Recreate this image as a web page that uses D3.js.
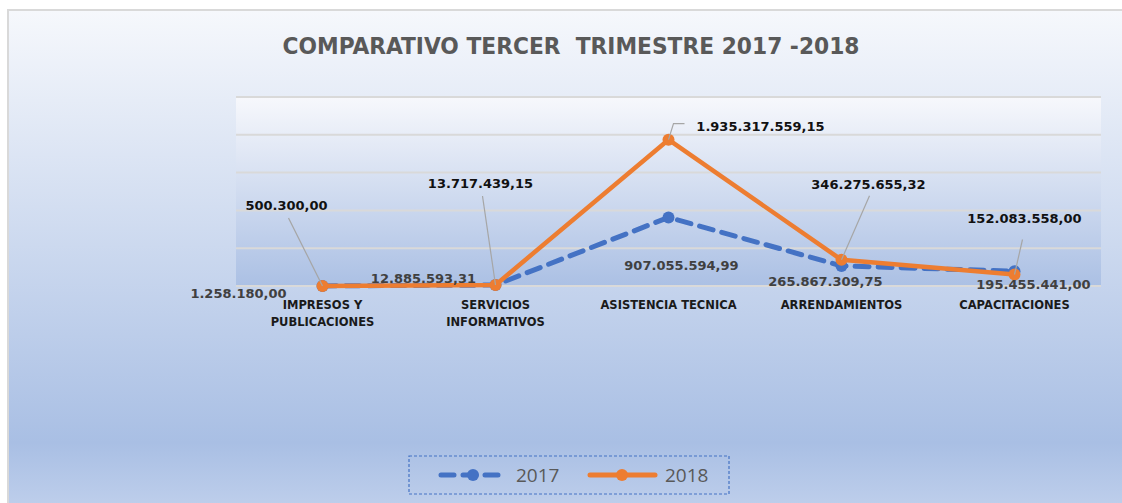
<!DOCTYPE html>
<html>
<head>
<meta charset="utf-8">
<script src="https://cdn.jsdelivr.net/npm/d3@7"></script>
<style>
  html, body { margin: 0; padding: 0; background: #fff; }
  svg { display: block; }
</style>
</head>
<body>
<div id="chart"></div>
<script>
const categories = [
    ["IMPRESOS Y", "PUBLICACIONES"],
    ["SERVICIOS", "INFORMATIVOS"],
    ["ASISTENCIA TECNICA"],
    ["ARRENDAMIENTOS"],
    ["CAPACITACIONES"]
];
const values2017 = [1258180.00, 12885593.31, 907055594.99, 265867309.75, 195455441.00];
const values2018 = [500300.00, 13717439.15, 1935317559.15, 346275655.32, 152083558.00];
const yTicks = [0, 500000000, 1000000000, 1500000000, 2000000000, 2500000000];
const seriesNames = ["2017", "2018"];
const titleText = "COMPARATIVO TERCER  TRIMESTRE 2017 -2018";

// label placement offsets (dx, dy from the point) as in the original chart
const labelPos2017 = [[-84, 8], [-72, -7], [13, 48], [-16, 16], [19, 13]];
const labelPos2018 = [[-36, -81], [-15, -102], [92, -13], [27, -75], [10, -56]];
const leader2018 = [[[-34, -68], [0, 0]], [[-13, -89], [0, 0]], [[16, -16], [5, -16], [0, 0]], [[28, -64], [0, 0]], [[8, -35], [0, 0]]];

const W = 1122, H = 503;
const plot = { left: 236, right: 1101, top: 97, bottom: 286 };

const svg = d3.select("#chart").append("svg")
    .attr("width", W)
    .attr("height", H);

const defs = svg.append("defs");
const bgGrad = defs.append("linearGradient").attr("id", "bg")
    .attr("x1", 0).attr("y1", 0).attr("x2", 0).attr("y2", 1);
bgGrad.append("stop").attr("offset", "0%").attr("stop-color", "#f6f8fc");
bgGrad.append("stop").attr("offset", "86%").attr("stop-color", "#a9bfe4");
bgGrad.append("stop").attr("offset", "100%").attr("stop-color", "#c0d0ec");

const plotGrad = defs.append("linearGradient").attr("id", "plotbg")
    .attr("x1", 0).attr("y1", 0).attr("x2", 0).attr("y2", 1);
plotGrad.append("stop").attr("offset", "0%").attr("stop-color", "#f7f8fc");
plotGrad.append("stop").attr("offset", "100%").attr("stop-color", "#abc0e4");

// chart area
svg.append("rect")
    .attr("x", 8).attr("y", 10)
    .attr("width", W).attr("height", H)
    .attr("fill", "url(#bg)")
    .attr("stroke", "#d9d9d9")
    .attr("stroke-width", 2);

svg.append("text")
    .attr("x", 571).attr("y", 54)
    .attr("text-anchor", "middle")
    .attr("font-family", "'DejaVu Sans Condensed', 'DejaVu Sans', sans-serif")
    .attr("font-stretch", "condensed")
    .attr("font-weight", "bold")
    .attr("font-size", 23)
    .attr("fill", "#595959")
    .attr("textLength", 577)
    .attr("lengthAdjust", "spacingAndGlyphs")
    .style("white-space", "pre")
    .text(titleText);

// plot area
svg.append("rect")
    .attr("x", plot.left).attr("y", plot.top)
    .attr("width", plot.right - plot.left)
    .attr("height", plot.bottom - plot.top)
    .attr("fill", "url(#plotbg)");

const x = d3.scaleBand()
    .domain(d3.range(categories.length))
    .range([plot.left, plot.right]);

const y = d3.scaleLinear()
    .domain([0, 2500000000])
    .range([plot.bottom, plot.top]);

const cx = i => x(i) + x.bandwidth() / 2;

svg.append("g")
    .selectAll("line")
    .data(yTicks)
    .join("line")
    .attr("x1", plot.left).attr("x2", plot.right)
    .attr("y1", d => y(d)).attr("y2", d => y(d))
    .attr("stroke", "#d9d9d9")
    .attr("stroke-width", 2);

// category labels
const catG = svg.append("g")
    .attr("font-family", "'DejaVu Sans', sans-serif")
    .attr("font-weight", "bold")
    .attr("font-size", 11.5)
    .attr("fill", "#1a1a1a")
    .attr("text-anchor", "middle");
categories.forEach((lines, i) => {
    lines.forEach((t, j) => {
        catG.append("text")
            .attr("x", cx(i))
            .attr("y", 309 + j * 17)
            .text(t);
    });
});

const line = d3.line()
    .x((d, i) => cx(i))
    .y(d => y(d));

const blue = "#4472c4", orange = "#ed7d31";

// 2017 series
svg.append("path")
    .datum(values2017)
    .attr("fill", "none")
    .attr("stroke", blue)
    .attr("stroke-width", 5)
    .attr("stroke-dasharray", "14 9")
    .attr("stroke-linecap", "round")
    .attr("d", line);
svg.append("g").selectAll("circle")
    .data(values2017)
    .join("circle")
    .attr("cx", (d, i) => cx(i))
    .attr("cy", d => y(d))
    .attr("r", 6)
    .attr("fill", blue);

// 2018 series
svg.append("path")
    .datum(values2018)
    .attr("fill", "none")
    .attr("stroke", orange)
    .attr("stroke-width", 4.5)
    .attr("stroke-linejoin", "round")
    .attr("d", line);
svg.append("g").selectAll("circle")
    .data(values2018)
    .join("circle")
    .attr("cx", (d, i) => cx(i))
    .attr("cy", d => y(d))
    .attr("r", 6)
    .attr("fill", orange);

const fmt = v => {
    const parts = v.toFixed(2).split(".");
    return parts[0].replace(/\B(?=(\d{3})+(?!\d))/g, ".") + "," + parts[1];
};

// leader lines for 2018 labels
svg.append("g").selectAll("polyline")
    .data(values2018)
    .join("polyline")
    .attr("points", (d, i) => leader2018[i].map(p => [cx(i) + p[0], y(d) + p[1]].join(",")).join(" "))
    .attr("fill", "none")
    .attr("stroke", "#a6a6a6")
    .attr("stroke-width", 1.2);

const labelFont = "'DejaVu Sans', sans-serif";

svg.append("g").selectAll("text")
    .data(values2017)
    .join("text")
    .attr("x", (d, i) => cx(i) + labelPos2017[i][0])
    .attr("y", (d, i) => y(d) + labelPos2017[i][1])
    .attr("dy", "0.35em")
    .attr("text-anchor", "middle")
    .attr("font-family", labelFont)
    .attr("font-weight", "bold")
    .attr("font-size", 13)
    .attr("fill", "#404040")
    .text(fmt);

svg.append("g").selectAll("text")
    .data(values2018)
    .join("text")
    .attr("x", (d, i) => cx(i) + labelPos2018[i][0])
    .attr("y", (d, i) => y(d) + labelPos2018[i][1])
    .attr("dy", "0.35em")
    .attr("text-anchor", "middle")
    .attr("font-family", labelFont)
    .attr("font-weight", "bold")
    .attr("font-size", 13)
    .attr("fill", "#111")
    .text(fmt);

// legend
const legend = svg.append("g");
legend.append("rect")
    .attr("x", 409).attr("y", 456)
    .attr("width", 320).attr("height", 38)
    .attr("fill", "none")
    .attr("stroke", blue)
    .attr("stroke-width", 1.2)
    .attr("stroke-dasharray", "3 2");

const legendItems = [
    { name: seriesNames[0], color: blue, dash: "13 9", x: 438 },
    { name: seriesNames[1], color: orange, dash: null, x: 587 }
];
legendItems.forEach(item => {
    legend.append("line")
        .attr("x1", item.x + 3).attr("x2", item.x + 68)
        .attr("y1", 475).attr("y2", 475)
        .attr("stroke", item.color)
        .attr("stroke-width", 5)
        .attr("stroke-linecap", "round")
        .attr("stroke-dasharray", item.dash);
    legend.append("circle")
        .attr("cx", item.x + 35).attr("cy", 475)
        .attr("r", 6)
        .attr("fill", item.color);
    legend.append("text")
        .attr("x", item.x + 78).attr("y", 475)
        .attr("dy", "0.35em")
        .attr("font-family", "'Open Sans', 'Liberation Sans', sans-serif")
        .attr("font-size", 19)
        .attr("fill", "#595959")
        .text(item.name);
});
</script>
</body>
</html>
